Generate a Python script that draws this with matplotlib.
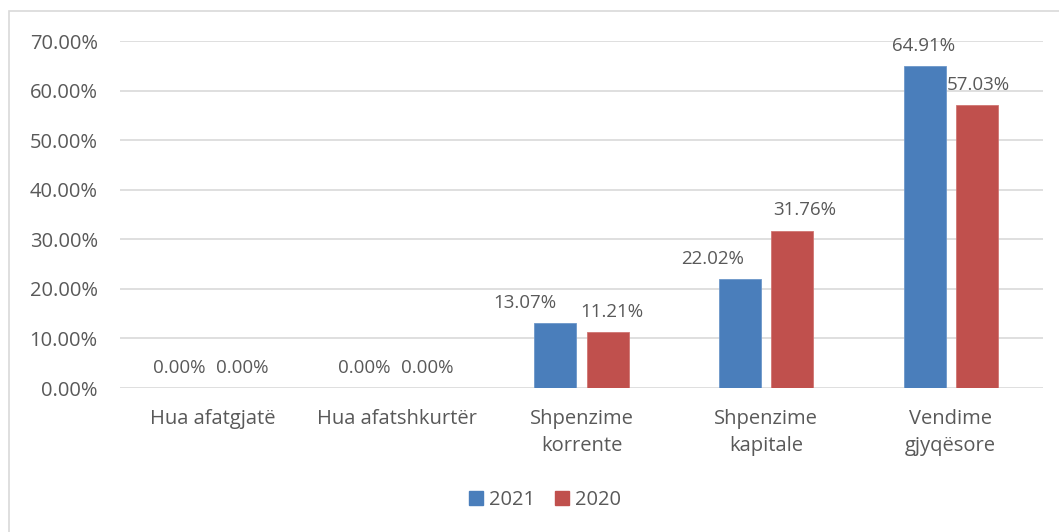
import matplotlib
matplotlib.use("Agg")
import matplotlib.pyplot as plt
import matplotlib.patches as mpatches
import numpy as np

# Data
categories = ["Hua afatgjatë", "Hua afatshkurtër", "Shpenzime\nkorrente",
              "Shpenzime\nkapitale", "Vendime\ngjyqësore"]
values_2021 = [0.0, 0.0, 13.07, 22.02, 64.91]
values_2020 = [0.0, 0.0, 11.21, 31.76, 57.03]
series_names = ["2021", "2020"]

BLUE = "#4A7EBB"
RED = "#C0504D"
TEXT = "#595959"
GRID = "#D9D9D9"

plt.rcParams['font.family'] = ['Open Sans', 'DejaVu Sans']

fig = plt.figure(figsize=(10.59, 5.32), dpi=100)
ax = fig.add_axes([120 / 1059, 1 - 388 / 532, 923 / 1059, (388 - 41) / 532])

x = np.arange(len(categories))
width = 0.228
gap = 0.055
bars1 = ax.bar(x - width / 2 - gap / 2, values_2021, width, color=BLUE,
               edgecolor="#6D97CA", linewidth=0.6, label=series_names[0], zorder=3)
bars2 = ax.bar(x + width / 2 + gap / 2, values_2020, width, color=RED,
               edgecolor="#D07572", linewidth=0.6, label=series_names[1], zorder=3)

# data labels (Excel nudges some labels sideways to avoid overlap)
nudge_2021 = [-5, -5, -22, -20, -1]
nudge_2020 = [3, 3, 3, 9, 1]
for bars, nudges in ((bars1, nudge_2021), (bars2, nudge_2020)):
    for b, dx in zip(bars, nudges):
        h = b.get_height()
        ax.annotate(f"{h:.2f}%", (b.get_x() + b.get_width() / 2, h),
                    xytext=(dx, 8), textcoords="offset points",
                    ha="center", va="bottom", fontsize=13.5, color=TEXT)

ax.set_xlim(-0.5, len(categories) - 0.5)
ax.set_ylim(0, 70)
ax.set_yticks(np.arange(0, 71, 10))
ax.set_yticklabels([f"{v:.2f}%" for v in np.arange(0, 71, 10)])
ax.set_xticks(x)
ax.set_xticklabels(categories, linespacing=1.45)
ax.tick_params(axis="both", length=0, colors=TEXT, labelsize=14.5)
ax.tick_params(axis="y", pad=16)
ax.tick_params(axis="x", pad=15)
ax.grid(axis="y", color=GRID, linewidth=1.2, zorder=0)
for s in ax.spines.values():
    s.set_visible(False)

handles = [mpatches.Patch(color=BLUE, label=series_names[0]),
           mpatches.Patch(color=RED, label=series_names[1])]
fig.legend(handles=handles, loc="center", bbox_to_anchor=(545 / 1059, 1 - 500 / 532),
           ncol=2, frameon=False, fontsize=14.5, labelcolor=TEXT,
           handlelength=0.7, handleheight=0.7, handletextpad=0.3, columnspacing=1.0)

# chart border (only top/left fall inside the image)
fig.patches.append(mpatches.Rectangle((9 / 1059, -0.05), 1.1, 1 - 11 / 532 + 0.05,
                                      transform=fig.transFigure, fill=False,
                                      edgecolor=GRID, linewidth=1.2))

fig.savefig("out.png", dpi=100)
